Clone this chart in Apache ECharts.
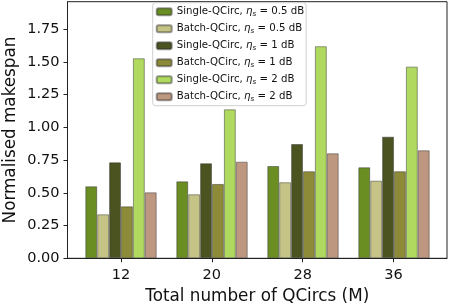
<!DOCTYPE html>
<html>
<head>
<meta charset="utf-8">
<script src="https://cdn.jsdelivr.net/npm/echarts@6/dist/echarts.min.js"></script>
<style>
html,body{margin:0;padding:0;background:#fff;}
#c{width:449px;height:307px;}
</style>
</head>
<body>
<div id="c"></div>
<script>
const categories = [12, 20, 28, 36];
const seriesNames = [
  "Single-QCirc, η_s = 0.5 dB",
  "Batch-QCirc, η_s = 0.5 dB",
  "Single-QCirc, η_s = 1 dB",
  "Batch-QCirc, η_s = 1 dB",
  "Single-QCirc, η_s = 2 dB",
  "Batch-QCirc, η_s = 2 dB"
];
const single05 = [0.55, 0.588, 0.705, 0.695];
const batch05  = [0.336, 0.489, 0.581, 0.593];
const single1  = [0.733, 0.726, 0.873, 0.929];
const batch1   = [0.397, 0.568, 0.665, 0.665];
const single2  = [1.528, 1.138, 1.62, 1.464];
const batch2   = [0.504, 0.738, 0.802, 0.825];
const yTicks = [0, 0.25, 0.5, 0.75, 1.0, 1.25, 1.5, 1.75];

const allValues = [single05, batch05, single1, batch1, single2, batch2];
const colors = ["#6b8e23", "#c6c386", "#4b5320", "#8d8b37", "#b0d95f", "#bd977f"];

const FONT = "DejaVu Sans";
const Y_MAX = 1.96;
const chart = echarts.init(document.getElementById('c'), null, {renderer: 'canvas'});

const series = allValues.map((vals, k) => ({
  name: seriesNames[k],
  type: 'bar',
  xAxisIndex: 1, yAxisIndex: 1,
  barWidth: 11.9,
  barGap: '0%',
  data: vals,
  itemStyle: {color: colors[k], borderColor: 'rgba(40,40,40,0.45)', borderWidth: 1},
  emphasis: {disabled: true}
}));

function legendFmt(name) {
  const m = name.match(/^(.*?)η_s(.*)$/);
  return '{n|' + m[1] + '}{e|η}{s|s}{n|' + m[2] + '}';
}

chart.setOption({
  animation: false,
  textStyle: {fontFamily: FONT},
  grid: [
    {left: 67.5, right: 2, top: 1.7, bottom: 48.7, show: true, borderColor: '#222', borderWidth: 1, outerBoundsMode: 'none', containLabel: false},
    {left: 75.5, width: 364, top: 1.7, bottom: 48.7, show: false, outerBoundsMode: 'none', containLabel: false}
  ],
  legend: {
    orient: 'vertical',
    left: 152.7, top: 2.7,
    padding: [3, 2, 3, 3],
    itemWidth: 15, itemHeight: 7,
    itemGap: 5,
    backgroundColor: 'rgba(255,255,255,0.85)',
    borderColor: '#cfcfcf', borderWidth: 1, borderRadius: 3,
    formatter: legendFmt,
    textStyle: {
      fontFamily: FONT, fontSize: 10.2, color: '#111', lineHeight: 12,
      rich: {
        n: {fontFamily: FONT, fontSize: 10.2, color: '#111', lineHeight: 12},
        e: {fontFamily: FONT, fontSize: 10.2, fontStyle: 'italic', color: '#111', lineHeight: 12},
        s: {fontFamily: FONT, fontSize: 7.2, fontStyle: 'italic', color: '#111', verticalAlign: 'bottom', lineHeight: 12, padding: [5, 0, 0, 0]}
      }
    },
    data: seriesNames
  },
  xAxis: [{
    type: 'value',
    gridIndex: 0,
    min: 7.3, max: 40.7,
    interval: 8,
    name: 'Total number of QCircs (M)',
    nameLocation: 'middle',
    nameGap: 30,
    nameMoveOverlap: false,
    nameTextStyle: {fontFamily: FONT, fontSize: 16.8, color: '#111'},
    axisLine: {show: true, lineStyle: {color: '#222', width: 1}},
    axisTick: {show: true, length: 4, lineStyle: {color: '#222'}, customValues: categories},
    axisLabel: {fontFamily: FONT, fontSize: 14.5, color: '#111', margin: 9, customValues: categories},
    splitLine: {show: false}
  }, {
    type: 'category',
    gridIndex: 1,
    data: categories.map(String),
    show: false
  }],
  yAxis: [{
    type: 'value',
    gridIndex: 0,
    min: 0, max: Y_MAX,
    interval: 0.25,
    name: 'Normalised makespan',
    nameLocation: 'middle',
    nameGap: 48,
    nameMoveOverlap: false,
    nameTextStyle: {fontFamily: FONT, fontSize: 16.8, color: '#111'},
    axisLine: {show: true, lineStyle: {color: '#222', width: 1}},
    axisTick: {show: true, length: 4, lineStyle: {color: '#222'}, customValues: yTicks},
    axisLabel: {fontFamily: FONT, fontSize: 14.5, color: '#111', margin: 8,
      customValues: yTicks,
      formatter: v => v.toFixed(2)},
    splitLine: {show: false}
  }, {
    type: 'value',
    gridIndex: 1,
    min: 0, max: Y_MAX,
    show: false,
    splitLine: {show: false}
  }],
  series: series
});
</script>
</body>
</html>
